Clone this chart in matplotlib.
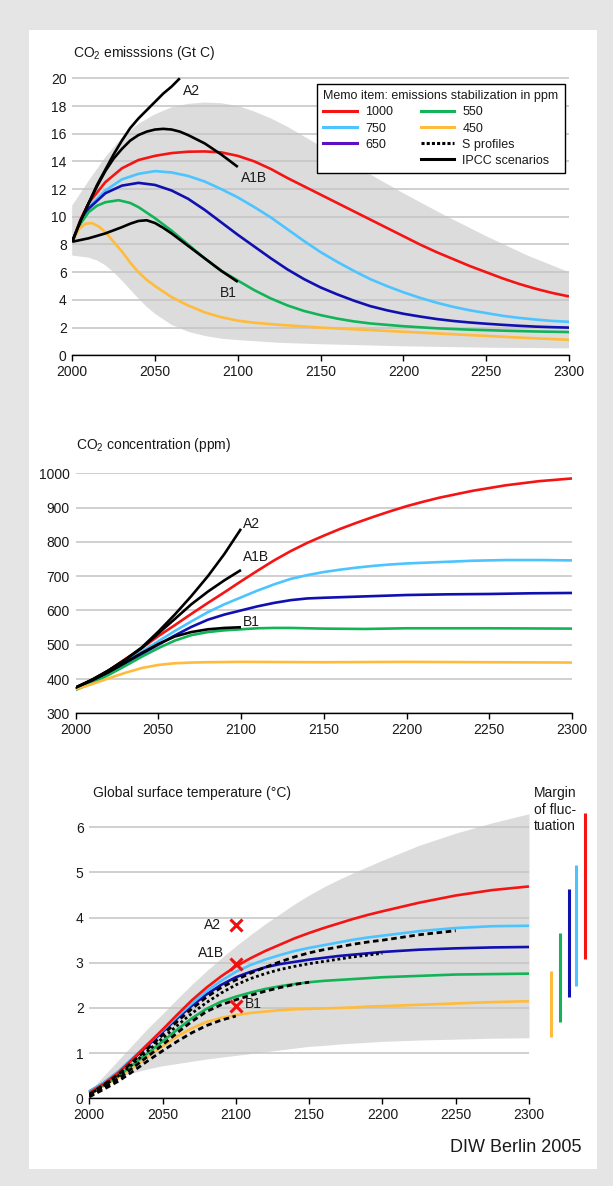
import matplotlib
matplotlib.use("Agg")
import matplotlib.pyplot as plt
from matplotlib.patches import Rectangle
from matplotlib.lines import Line2D

plt.rcParams["font.family"] = ["Liberation Sans", "DejaVu Sans"]

RED = "#f51414"
LBLUE = "#4cc4ff"
DBLUE = "#1010b0"
GREEN = "#12b457"
YELLOW = "#ffbb3c"
BAND = "#dcdcdc"
GRID = "#c4c4c4"
TXT = "#1a1a1a"

# ---------------- emissions (Gt C) ----------------
em_band_x = [2000, 2010, 2020, 2030, 2040, 2050, 2060, 2070, 2080, 2090, 2100, 2110,
             2120, 2130, 2140, 2150, 2175, 2200, 2225, 2250, 2275, 2300]
em_band_hi = [10.8, 12.6, 14.3, 15.7, 16.7, 17.4, 17.9, 18.15, 18.25, 18.2, 18.0, 17.6,
              17.1, 16.5, 15.8, 15.1, 13.4, 11.7, 10.1, 8.6, 7.2, 6.0]
em_band_lo_x = [2000, 2010, 2015, 2020, 2025, 2030, 2035, 2040, 2045, 2050, 2060, 2070,
                2080, 2090, 2100, 2125, 2150, 2200, 2250, 2300]
em_band_lo = [7.2, 7.05, 6.85, 6.5, 6.0, 5.4, 4.75, 4.1, 3.5, 3.0, 2.2, 1.7,
              1.4, 1.2, 1.1, 0.9, 0.8, 0.65, 0.55, 0.5]

yr10 = list(range(2000, 2301, 10))
em_1000_x = [2000, 2005] + yr10[1:]
em_1000 = [8.2, 9.8, 11.0, 12.5, 13.5, 14.1, 14.4, 14.6, 14.7, 14.72, 14.65, 14.4,
           14.0, 13.45, 12.8, 12.2, 11.6, 11.0, 10.4, 9.8, 9.2, 8.6, 8.0, 7.45,
           6.95, 6.45, 6.0, 5.55, 5.15, 4.8, 4.5, 4.25]
em_750_x = [2000, 2005] + yr10[1:]
em_750 = [8.2, 9.7, 10.7, 11.9, 12.7, 13.1, 13.3, 13.2, 12.95, 12.55, 12.0, 11.4,
          10.7, 9.95, 9.1, 8.25, 7.45, 6.75, 6.1, 5.5, 5.0, 4.55, 4.15, 3.8,
          3.5, 3.25, 3.05, 2.85, 2.7, 2.58, 2.48, 2.42]
em_650_x = [2000, 2005] + yr10[1:]
em_650 = [8.2, 9.6, 10.6, 11.7, 12.25, 12.45, 12.3, 11.9, 11.3, 10.5, 9.6, 8.7,
          7.85, 7.0, 6.2, 5.5, 4.9, 4.4, 3.95, 3.55, 3.25, 3.0, 2.8, 2.62,
          2.48, 2.37, 2.28, 2.2, 2.13, 2.07, 2.03, 2.0]
em_550_x = [2000, 2005, 2010, 2015, 2020, 2028, 2035, 2040, 2050, 2060, 2070, 2080,
            2090, 2100, 2110, 2120, 2130, 2140, 2150, 2160, 2170, 2180, 2190, 2200,
            2220, 2240, 2260, 2280, 2300]
em_550 = [8.2, 9.5, 10.35, 10.8, 11.05, 11.2, 11.0, 10.7, 9.9, 9.0, 8.0, 7.0,
          6.1, 5.4, 4.7, 4.1, 3.6, 3.2, 2.9, 2.65, 2.45, 2.3, 2.2, 2.1,
          1.95, 1.85, 1.78, 1.72, 1.68]
em_450_x = [2000, 2004, 2008, 2012, 2016, 2020, 2025, 2030, 2035, 2040, 2045, 2050,
            2060, 2070, 2080, 2090, 2100, 2110, 2125, 2150, 2175, 2200, 2225, 2250,
            2275, 2300]
em_450 = [8.2, 9.1, 9.5, 9.55, 9.3, 8.9, 8.2, 7.5, 6.7, 6.0, 5.45, 5.0,
          4.2, 3.6, 3.1, 2.75, 2.5, 2.35, 2.2, 2.0, 1.85, 1.7, 1.55, 1.4,
          1.25, 1.12]
em_a2_x = [2000, 2005, 2010, 2015, 2020, 2025, 2030, 2035, 2040, 2045, 2050, 2055,
           2060, 2065]
em_a2 = [8.2, 9.7, 11.0, 12.3, 13.4, 14.5, 15.5, 16.4, 17.1, 17.7, 18.3, 18.9,
         19.4, 20.0]
em_a1b_x = [2000, 2005, 2010, 2015, 2020, 2025, 2030, 2035, 2040, 2045, 2050, 2055,
            2060, 2065, 2070, 2075, 2080, 2085, 2090, 2095, 2100]
em_a1b = [8.2, 9.7, 11.0, 12.2, 13.3, 14.2, 14.9, 15.5, 15.9, 16.15, 16.3, 16.35,
          16.3, 16.15, 15.9, 15.6, 15.3, 14.9, 14.5, 14.05, 13.6]
em_b1_x = [2000, 2010, 2020, 2030, 2035, 2040, 2045, 2050, 2055, 2060, 2070, 2080,
           2090, 2100]
em_b1 = [8.2, 8.45, 8.8, 9.25, 9.5, 9.7, 9.75, 9.55, 9.2, 8.8, 7.9, 7.0, 6.1, 5.3]

# ---------------- concentration (ppm) ----------------
co_1000 = [372, 395, 425, 458, 490, 525, 557, 590, 622, 653, 685, 716, 746, 773,
           797, 818, 838, 856, 873, 889, 904, 917, 929, 939, 949, 957, 965, 971,
           977, 981, 985]
co_750_x = list(range(2000, 2201, 10)) + [2220, 2240, 2260, 2280, 2300]
co_750 = [372, 393, 420, 450, 480, 510, 540, 568, 595, 618, 638, 658, 676, 692,
          703, 712, 719, 725, 730, 734, 737, 741, 745, 747, 747, 746]
co_650_x = list(range(2000, 2151, 10)) + [2175, 2200, 2225, 2250, 2275, 2300]
co_650 = [372, 392, 418, 445, 472, 500, 527, 552, 573, 588, 600, 612, 622, 630,
          635, 637, 641, 645, 647, 648, 650, 651]
co_550_x = list(range(2000, 2131, 10)) + [2150, 2175, 2200, 2250, 2300]
co_550 = [368, 388, 412, 438, 465, 490, 512, 528, 537, 542, 545, 548, 549, 549,
          547, 546, 548, 548, 547]
co_450_x = [2000, 2010, 2020, 2030, 2040, 2050, 2060, 2070, 2080, 2100, 2150, 2200,
            2250, 2300]
co_450 = [370, 385, 402, 418, 432, 441, 446, 448, 449, 450, 449, 450, 449, 448]
co_ipcc_x = list(range(2000, 2101, 10))
co_a2 = [375, 398, 425, 456, 492, 538, 588, 642, 700, 765, 838]
co_a1b = [375, 398, 425, 456, 490, 533, 575, 618, 655, 688, 718]
co_b1 = [375, 396, 420, 448, 476, 502, 524, 537, 545, 549, 551]

# ---------------- temperature (deg C) ----------------
t_x = list(range(2000, 2201, 10)) + [2225, 2250, 2275, 2300]
t_band_hi = [0.15, 0.5, 0.85, 1.2, 1.55, 1.87, 2.2, 2.52, 2.82, 3.1, 3.37, 3.62,
             3.86, 4.08, 4.3, 4.5, 4.68, 4.84, 4.99, 5.13, 5.27, 5.6, 5.87, 6.1, 6.3]
t_band_lo = [0.15, 0.32, 0.46, 0.57, 0.65, 0.72, 0.77, 0.82, 0.87, 0.91, 0.95, 0.99,
             1.03, 1.07, 1.11, 1.15, 1.17, 1.2, 1.22, 1.24, 1.26, 1.29, 1.31, 1.33, 1.34]
t_1000 = [0.12, 0.32, 0.57, 0.88, 1.2, 1.52, 1.85, 2.17, 2.45, 2.7, 2.92, 3.1,
          3.26, 3.4, 3.54, 3.66, 3.77, 3.87, 3.97, 4.06, 4.14, 4.33, 4.49, 4.61, 4.69]
t_750 = [0.15, 0.35, 0.6, 0.9, 1.2, 1.5, 1.81, 2.1, 2.37, 2.6, 2.8, 2.95,
         3.07, 3.17, 3.26, 3.33, 3.39, 3.45, 3.51, 3.56, 3.6, 3.7, 3.77, 3.81, 3.82]
t_650 = [0.15, 0.34, 0.58, 0.87, 1.17, 1.47, 1.77, 2.05, 2.3, 2.51, 2.68, 2.8,
         2.9, 2.97, 3.02, 3.07, 3.11, 3.15, 3.18, 3.21, 3.24, 3.29, 3.32, 3.34, 3.35]
t_550 = [0.12, 0.3, 0.5, 0.75, 1.0, 1.26, 1.52, 1.77, 1.98, 2.14, 2.25, 2.34,
         2.42, 2.48, 2.53, 2.57, 2.6, 2.62, 2.64, 2.66, 2.68, 2.71, 2.74, 2.75, 2.76]
t_450 = [0.1, 0.27, 0.46, 0.68, 0.92, 1.15, 1.37, 1.55, 1.69, 1.78, 1.84, 1.89,
         1.92, 1.95, 1.97, 1.98, 1.99, 2.0, 2.01, 2.03, 2.04, 2.07, 2.1, 2.13, 2.15]
s_750 = [0.08, 0.3, 0.53, 0.82, 1.1, 1.4, 1.7, 1.98, 2.24, 2.45, 2.62, 2.77,
         2.9, 3.02, 3.13, 3.22, 3.29, 3.35, 3.41, 3.46, 3.5, 3.62, 3.71]
s_650 = [0.08, 0.28, 0.5, 0.77, 1.05, 1.33, 1.61, 1.88, 2.12, 2.33, 2.51, 2.65,
         2.76, 2.85, 2.92, 2.98, 3.03, 3.08, 3.13, 3.17, 3.21]
s_550 = [0.05, 0.24, 0.44, 0.68, 0.93, 1.18, 1.45, 1.7, 1.92, 2.07, 2.18, 2.28,
         2.37, 2.45, 2.52, 2.57]
s_450 = [0.03, 0.2, 0.38, 0.6, 0.83, 1.05, 1.26, 1.45, 1.61, 1.73, 1.82]
ipcc_names = ["A2", "A1B", "B1"]
ipcc_t2100 = [3.83, 2.97, 2.05]
margin_x = [2315, 2321, 2327, 2332, 2338]
margin_lo = [1.35, 1.68, 2.25, 2.49, 3.08]
margin_hi = [2.82, 3.67, 4.63, 5.16, 6.32]
margin_col = [YELLOW, GREEN, DBLUE, LBLUE, RED]

W, H = 613, 1186
fig = plt.figure(figsize=(W / 100, H / 100), dpi=100, facecolor="#e5e5e5")
fig.patches.append(Rectangle((29 / W, 1 - 1169 / H), 568 / W, 1139 / H,
                             transform=fig.transFigure, fc="white", ec="none", zorder=-5))


def px_axes(x0, x1, y0, y1):
    # pixel edges -> figure fraction
    return fig.add_axes([x0 / W, 1 - y1 / H, (x1 - x0) / W, (y1 - y0) / H])


def style(ax, yticks):
    ax.set_facecolor("none")
    for s in ["left", "right", "top"]:
        ax.spines[s].set_visible(False)
    ax.spines["bottom"].set_color("black")
    ax.spines["bottom"].set_linewidth(1.0)
    ax.set_xlim(2000, 2300)
    ax.set_xticks(range(2000, 2301, 50))
    ax.set_yticks(yticks)
    ax.tick_params(axis="x", direction="out", length=4, width=1, pad=3,
                   labelsize=10, labelcolor=TXT)
    ax.tick_params(axis="y", length=0, pad=4, labelsize=10, labelcolor=TXT)
    ax.set_axisbelow(True)
    ax.yaxis.grid(True, color=GRID, lw=1.1)


LW = 1.9
KW = dict(lw=LW, solid_joinstyle="round", solid_capstyle="butt")

# ---- panel 1 ----
ax1 = px_axes(72.2, 569, 355.3 - 20.3 * 13.85, 355.3)
style(ax1, range(0, 21, 2))
ax1.set_ylim(0, 20.3)
ax1.fill(em_band_x + em_band_lo_x[::-1], em_band_hi + em_band_lo[::-1],
         color=BAND, lw=0, zorder=0.2)
ax1.plot(em_1000_x, em_1000, color=RED, **KW)
ax1.plot(em_750_x, em_750, color=LBLUE, **KW)
ax1.plot(em_650_x, em_650, color=DBLUE, **KW)
ax1.plot(em_550_x, em_550, color=GREEN, **KW)
ax1.plot(em_450_x, em_450, color=YELLOW, **KW)
ax1.plot(em_a2_x, em_a2, color="black", **KW)
ax1.plot(em_a1b_x, em_a1b, color="black", **KW)
ax1.plot(em_b1_x, em_b1, color="black", **KW)
ax1.text(2067, 19.1, "A2", fontsize=10, color=TXT, va="center")
ax1.text(2102, 12.8, "A1B", fontsize=10, color=TXT, va="center")
ax1.text(2089, 4.5, "B1", fontsize=10, color=TXT, va="center")
fig.text(73 / W, 1 - 53 / H, "CO$_\\mathregular{2}$ emisssions (Gt C)", fontsize=10,
         color=TXT, va="center")

handles = [Line2D([], [], color=RED, lw=2.2), Line2D([], [], color=LBLUE, lw=2.2),
           Line2D([], [], color="#5b10c4", lw=2.2), Line2D([], [], color="none"),
           Line2D([], [], color=GREEN, lw=2.2), Line2D([], [], color=YELLOW, lw=2.2),
           Line2D([], [], color="black", lw=2.2, ls=(0, (1, 0.7))),
           Line2D([], [], color="black", lw=2.2)]
labels = ["1000", "750", "650", "", "550", "450", "S profiles", "IPCC scenarios"]
leg = ax1.legend(handles, labels, ncol=2, loc="upper left",
                 bbox_to_anchor=(317 / W, 1 - 84 / H), bbox_transform=fig.transFigure,
                 borderaxespad=0, fontsize=9, title="Memo item: emissions stabilization in ppm",
                 title_fontsize=9, alignment="left", fancybox=False, framealpha=1,
                 edgecolor="black", handlelength=2.7, handletextpad=0.65,
                 columnspacing=2.2, labelspacing=0.33, borderpad=0.5)
leg.get_frame().set_linewidth(1.0)
for t in leg.get_texts():
    t.set_color(TXT)
leg.get_title().set_color(TXT)

# ---- panel 2 ----
ax2 = px_axes(75.5, 572, 473.3, 713.3)
style(ax2, range(300, 1001, 100))
ax2.set_ylim(300, 1000)
ax2.plot(yr10, co_1000, color=RED, clip_on=False, **KW)
ax2.plot(co_750_x, co_750, color=LBLUE, **KW)
ax2.plot(co_650_x, co_650, color=DBLUE, **KW)
ax2.plot(co_550_x, co_550, color=GREEN, **KW)
ax2.plot(co_450_x, co_450, color=YELLOW, **KW)
ax2.plot(co_ipcc_x, co_a2, color="black", **KW)
ax2.plot(co_ipcc_x, co_a1b, color="black", **KW)
ax2.plot(co_ipcc_x, co_b1, color="black", **KW)
ax2.text(2101, 852, "A2", fontsize=10, color=TXT, va="center")
ax2.text(2101, 757, "A1B", fontsize=10, color=TXT, va="center")
ax2.text(2101, 566, "B1", fontsize=10, color=TXT, va="center")
fig.text(75.5 / W, 1 - 445 / H, "CO$_\\mathregular{2}$ concentration (ppm)", fontsize=10,
         color=TXT, va="center")

# ---- panel 3 ----
ax3 = px_axes(89.2, 529, 1098.3 - 6.4 * 45.17, 1098.3)
style(ax3, range(0, 7))
ax3.set_ylim(0, 6.4)
ax3.fill_between(t_x, t_band_lo, t_band_hi, color=BAND, lw=0, zorder=0.2)
ax3.plot(t_x, t_450, color=YELLOW, clip_on=False, **KW)
ax3.plot(t_x, t_550, color=GREEN, clip_on=False, **KW)
ax3.plot(t_x, t_650, color=DBLUE, clip_on=False, **KW)
ax3.plot(t_x, t_750, color=LBLUE, clip_on=False, **KW)
ax3.plot(t_x, t_1000, color=RED, clip_on=False, **KW)
ax3.plot(t_x[:len(s_750)], s_750, color="black", lw=2.0, ls=(0, (2, 1.3)))
ax3.plot(t_x[:len(s_650)], s_650, color="black", lw=2.0, ls=(0, (1, 1)))
ax3.plot(t_x[:len(s_550)], s_550, color="black", lw=2.0, ls=(0, (2, 1.3)))
ax3.plot(t_x[:len(s_450)], s_450, color="black", lw=2.0, ls=(0, (2, 1.3)))
ax3.plot([2100] * 3, ipcc_t2100, ls="none", marker="x", ms=8.5, mew=2.2, color="#f01010")
ax3.text(2090, ipcc_t2100[0], ipcc_names[0], fontsize=10, color=TXT, ha="right", va="center")
ax3.text(2092, 3.21, ipcc_names[1], fontsize=10, color=TXT, ha="right", va="center")
ax3.text(2106, 2.09, ipcc_names[2], fontsize=10, color=TXT, ha="left", va="center")
vl = ax3.vlines(margin_x, margin_lo, margin_hi, colors=margin_col, lw=2.2)
vl.set_clip_on(False)
fig.text(92.7 / W, 1 - 793 / H, "Global surface temperature (\u00b0C)", fontsize=10,
         color=TXT, va="center")
fig.text(534 / W, 1 - 786 / H, "Margin\nof fluc-\ntuation", fontsize=10, color=TXT,
         va="top", ha="left", linespacing=1.25)
fig.text(582 / W, 1 - 1148 / H, "DIW Berlin 2005", fontsize=13, color=TXT,
         ha="right", va="center")

fig.savefig("out.png", dpi=100, facecolor=fig.get_facecolor())
